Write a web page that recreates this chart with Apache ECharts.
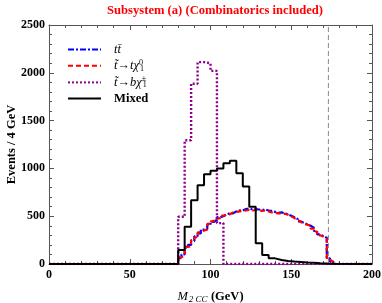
<!DOCTYPE html>
<html><head><meta charset="utf-8">
<script src="https://cdn.jsdelivr.net/npm/echarts@6/dist/echarts.min.js"></script>
<style>html,body{margin:0;padding:0;background:#fff}#c{width:382px;height:303px}</style>
</head><body><div id="c"></div>
<script>
// ---- data ----
const xTicks = [0, 50, 100, 150, 200];
const yTicks = [0, 500, 1000, 1500, 2000, 2500];
const topMass = 173;
// t tbar: 2 GeV steps starting at 80 GeV
const ttbarStart = 80, ttbarWidth = 2;
const ttbarValues = [60,100,170,200,240,290,320,360,370,410,440,460,490,500,520,530,530,550,560,560,575,580,570,575,570,565,570,560,555,545,535,540,530,520,505,490,470,445,430,415,400,380,345,310,290,275,60,25];
// stop -> t chi0: 2 GeV steps starting at 80 GeV
const tchiStart = 80, tchiWidth = 2;
const tchiValues = [70,90,180,185,250,280,330,350,360,420,445,475,480,505,515,520,540,545,550,555,560,565,560,565,560,555,560,550,540,535,530,530,525,515,500,480,460,440,420,410,405,370,340,300,285,265,45,25];
// stop -> b chi+-: 4 GeV bins starting at 80 GeV
const bchiStart = 80, bchiWidth = 4;
const bchiValues = [494,1294,1886,2112,2100,2020,428];
// Mixed: 4 GeV bins starting at 80 GeV
const mixedStart = 80, mixedWidth = 4;
const mixedValues = [146,389,668,825,940,975,1000,1055,1080,950,810,598,216,94,59,42,31,25,20,15,12,8,5,3];

function histPoints(start, width, values) {
  const pts = [[0, 0]];
  values.forEach((v, i) => pts.push([start + i * width, v]));
  pts.push([start + values.length * width, 0]);
  pts.push([200, 0]);
  return pts;
}

const serif = 'Liberation Serif';
const chart = echarts.init(document.getElementById('c'), null, {renderer: 'canvas'});
const axisLineColor = '#555';
const baseX = {
  type: 'value', min: 0, max: 200, interval: 50,
  axisLine: {onZero: false, lineStyle: {color: axisLineColor, width: 1}},
  axisTick: {inside: true, length: 5, lineStyle: {color: axisLineColor}},
  minorTick: {show: true, splitNumber: 5, length: 3, lineStyle: {color: axisLineColor}},
  splitLine: {show: false}
};
const baseY = {
  type: 'value', min: 0, max: 2500, interval: 500,
  axisLine: {show: true, onZero: false, lineStyle: {color: axisLineColor, width: 1}},
  axisTick: {show: true, inside: true, length: 5, lineStyle: {color: axisLineColor}},
  minorTick: {show: true, splitNumber: 5, length: 3, lineStyle: {color: axisLineColor}},
  splitLine: {show: false}
};

const option = {
  animation: false,
  backgroundColor: '#fff',
  title: {
    text: 'Subsystem (a) (Combinatorics included)',
    left: 210, top: -1, textAlign: 'center',
    textStyle: {color: '#ff0000', fontFamily: serif, fontWeight: 'bold', fontSize: 12.6}
  },
  grid: {left: 49, right: 10, top: 25, bottom: 39, containLabel: false, outerBoundsMode: 'none'},
  legend: {
    left: 62, top: 38, orient: 'vertical',
    itemWidth: 33, itemHeight: 10, itemGap: 2.7,
    itemStyle: {opacity: 0, borderWidth: 0},
    data: ['ttbar', 'tchi', 'bchi', 'Mixed'],
    formatter: function (n) {
      if (n === 'ttbar') return '{i|tt\u0304}';
      if (n === 'tchi') return '{i|t\u0303\u2192t\u03c7}{s|0}{sb|1}';
      if (n === 'bchi') return '{i|t\u0303\u2192b\u03c7}{s|\u00b1}{sb|1}';
      return '{b|Mixed}';
    },
    textStyle: {
      fontFamily: serif, color: '#000', padding: [0, 0, 0, 8],
      rich: {
        i: {fontFamily: serif, fontStyle: 'italic', fontSize: 12.5, lineHeight: 14, color: '#000'},
        s: {fontFamily: serif, fontSize: 8, lineHeight: 8, width: 1, color: '#000', verticalAlign: 'top'},
        sb: {fontFamily: serif, fontSize: 8, lineHeight: 8, color: '#000', verticalAlign: 'bottom'},
        b: {fontFamily: serif, fontWeight: 'bold', fontSize: 12.6, lineHeight: 14, color: '#000'}
      }
    }
  },
  xAxis: [
    Object.assign({}, baseX, {
      position: 'bottom',
      axisLabel: {color: '#000', fontFamily: serif, fontWeight: 'bold', fontSize: 12, margin: 5,
        formatter: v => String(v)},
      name: '{m|M}{sub|2 CC} {g|(GeV)}', nameLocation: 'middle', nameGap: 26,
      nameTextStyle: {
        rich: {
          m: {fontFamily: serif, fontStyle: 'italic', fontSize: 12.5, color: '#000'},
          sub: {fontFamily: serif, fontStyle: 'italic', fontSize: 9, color: '#000', verticalAlign: 'bottom', padding: [5, 0, 0, 1]},
          g: {fontFamily: serif, fontWeight: 'bold', fontSize: 12.5, color: '#000'}
        }
      }
    }),
    Object.assign({}, baseX, {position: 'top', axisLabel: {show: false}})
  ],
  yAxis: [
    Object.assign({}, baseY, {
      position: 'left',
      axisLabel: {color: '#000', fontFamily: serif, fontWeight: 'bold', fontSize: 12, margin: 4,
        formatter: v => String(v)},
      name: 'Events / 4 GeV', nameLocation: 'middle', nameGap: 31, nameRotate: 90,
      nameMoveOverlap: false,
      nameTextStyle: {fontFamily: serif, fontWeight: 'bold', fontSize: 12.5, color: '#000'}
    }),
    Object.assign({}, baseY, {position: 'right', axisLabel: {show: false}})
  ],
  series: [
    {
      name: 'top', type: 'line', silent: true, symbol: 'none',
      data: [[topMass, 0], [topMass, 2500]],
      lineStyle: {color: '#888', width: 1, type: [5, 3]}, z: 1
    },
    {
      name: 'ttbar', type: 'line', step: 'end', symbol: 'none',
      data: histPoints(ttbarStart, ttbarWidth, ttbarValues),
      itemStyle: {color: '#0000ff'},
      lineStyle: {color: '#0000ff', width: 2.2, type: [6, 2, 2, 2]}, z: 2
    },
    {
      name: 'tchi', type: 'line', step: 'end', symbol: 'none',
      data: histPoints(tchiStart, tchiWidth, tchiValues),
      itemStyle: {color: '#ff0000'},
      lineStyle: {color: '#ff0000', width: 2.2, type: [5, 3]}, z: 3
    },
    {
      name: 'bchi', type: 'line', step: 'end', symbol: 'none',
      data: histPoints(bchiStart, bchiWidth, bchiValues),
      itemStyle: {color: '#8b008b'},
      lineStyle: {color: '#8b008b', width: 2.4, type: [2, 2]}, z: 4
    },
    {
      name: 'Mixed', type: 'line', step: 'end', symbol: 'none',
      data: histPoints(mixedStart, mixedWidth, mixedValues),
      itemStyle: {color: '#000'},
      lineStyle: {color: '#000', width: 2}, z: 5
    }
  ]
};
chart.setOption(option);
</script>
</body></html>
